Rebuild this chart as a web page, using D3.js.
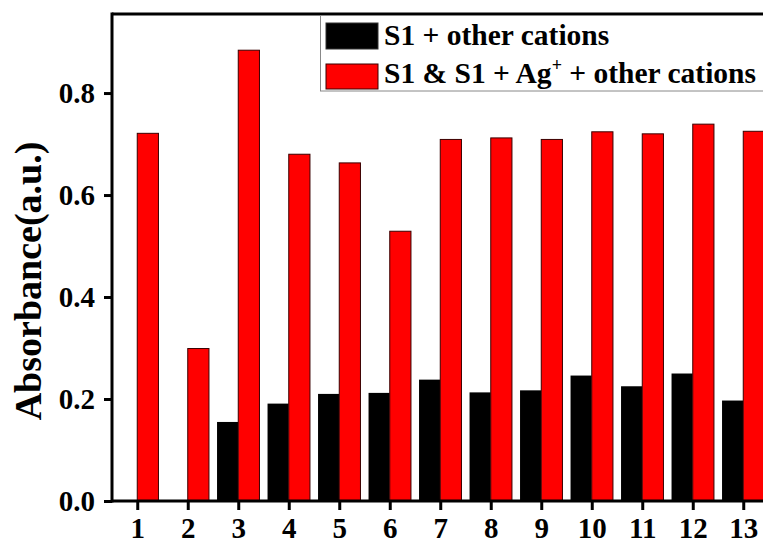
<!DOCTYPE html>
<html>
<head>
<meta charset="utf-8">
<script src="https://cdn.jsdelivr.net/npm/d3@7"></script>
<style>
  html, body { margin: 0; padding: 0; background: #fff; }
  svg { display: block; }
  text { font-family: "Times New Roman", "Liberation Serif", serif; font-weight: bold; fill: #000; }
</style>
</head>
<body>
<svg id="chart" width="763" height="545"></svg>
<script>
const categories = [1, 2, 3, 4, 5, 6, 7, 8, 9, 10, 11, 12, 13];
const seriesNames = ["S1 + other cations", "S1 & S1 + Ag⁺ + other cations"];
const blackValues = [0, 0, 0.155, 0.191, 0.210, 0.212, 0.238, 0.213, 0.217, 0.246, 0.225, 0.250, 0.197];
const redValues = [0.721, 0.299, 0.884, 0.680, 0.663, 0.529, 0.709, 0.712, 0.709, 0.724, 0.720, 0.739, 0.725];
const yTicks = [0.0, 0.2, 0.4, 0.6, 0.8];
const yLabel = "Absorbance(a.u.)";

const svg = d3.select("#chart");
const pL = 112, pR = 768.5, pT = 14, pB = 501;

const x = d3.scaleLinear().domain([0.5, 13.5]).range([pL, pR]);
const y = d3.scaleLinear().domain([0, 0.955]).range([pB, pT]);
const bw = 0.42;

// bars
svg.append("g").selectAll("rect").data(categories).join("rect")
  .attr("x", (d) => x(d - bw))
  .attr("width", x(bw) - x(0))
  .attr("y", (d, i) => y(blackValues[i]))
  .attr("height", (d, i) => y(0) - y(blackValues[i]))
  .attr("fill", "#000");

svg.append("g").selectAll("rect").data(categories).join("rect")
  .attr("x", (d) => x(d))
  .attr("width", x(bw) - x(0))
  .attr("y", (d, i) => y(redValues[i]))
  .attr("height", (d, i) => y(0) - y(redValues[i]))
  .attr("fill", "#ff0000")
  .attr("stroke", "#3a0000")
  .attr("stroke-width", 1);

// axes
const yAxis = d3.axisLeft(y).tickValues(yTicks).tickFormat(d3.format(".1f")).tickSize(8).tickPadding(9);
const gy = svg.append("g").attr("transform", `translate(${pL},0)`).call(yAxis);
gy.select(".domain").remove();
gy.selectAll(".tick line").attr("stroke", "#000").attr("stroke-width", 3);
gy.selectAll(".tick text").attr("font-size", 29).attr("font-family", null).attr("dy", "0.34em");

const xAxis = d3.axisBottom(x).tickValues(categories).tickFormat(d3.format("d")).tickSize(9).tickPadding(7);
const gx = svg.append("g").attr("transform", `translate(0,${pB})`).call(xAxis);
gx.select(".domain").remove();
gx.selectAll(".tick line").attr("stroke", "#000").attr("stroke-width", 3);
gx.selectAll(".tick text").attr("font-size", 29).attr("font-family", null);

// frame
const frame = svg.append("g").attr("stroke", "#000").attr("stroke-width", 3).attr("fill", "none");
frame.append("line").attr("x1", pL).attr("x2", pL).attr("y1", pT - 1.5).attr("y2", pB + 1.5);
frame.append("line").attr("x1", pL).attr("x2", pR).attr("y1", pT).attr("y2", pT);
frame.append("line").attr("x1", pL).attr("x2", pR).attr("y1", pB).attr("y2", pB);
frame.append("line").attr("x1", pR).attr("x2", pR).attr("y1", pT).attr("y2", pB);

// y label
svg.append("text")
  .attr("transform", "translate(41,281) rotate(-90)")
  .attr("text-anchor", "middle")
  .attr("font-size", 38)
  .text(yLabel);

// legend
const lg = svg.append("g");
lg.append("rect").attr("x", 320.5).attr("y", pT + 1.5).attr("width", 500).attr("height", 75.5)
  .attr("fill", "#fff").attr("stroke", "#888").attr("stroke-width", 1);
lg.append("rect").attr("x", 326).attr("y", 23).attr("width", 52).attr("height", 26)
  .attr("fill", "#000").attr("stroke", "#333").attr("stroke-width", 1);
lg.append("rect").attr("x", 326).attr("y", 64).attr("width", 52).attr("height", 25)
  .attr("fill", "#ff0000").attr("stroke", "#3a0000").attr("stroke-width", 1);
lg.append("text").attr("x", 384).attr("y", 45).attr("font-size", 29.5).text(seriesNames[0]);
const t2 = lg.append("text").attr("x", 384).attr("y", 83).attr("font-size", 29.5);
t2.append("tspan").text("S1 & S1 + Ag");
t2.append("tspan").attr("font-size", 18).attr("dy", -12).text("+");
t2.append("tspan").attr("dy", 12).text(" + other cations");
</script>
</body>
</html>
